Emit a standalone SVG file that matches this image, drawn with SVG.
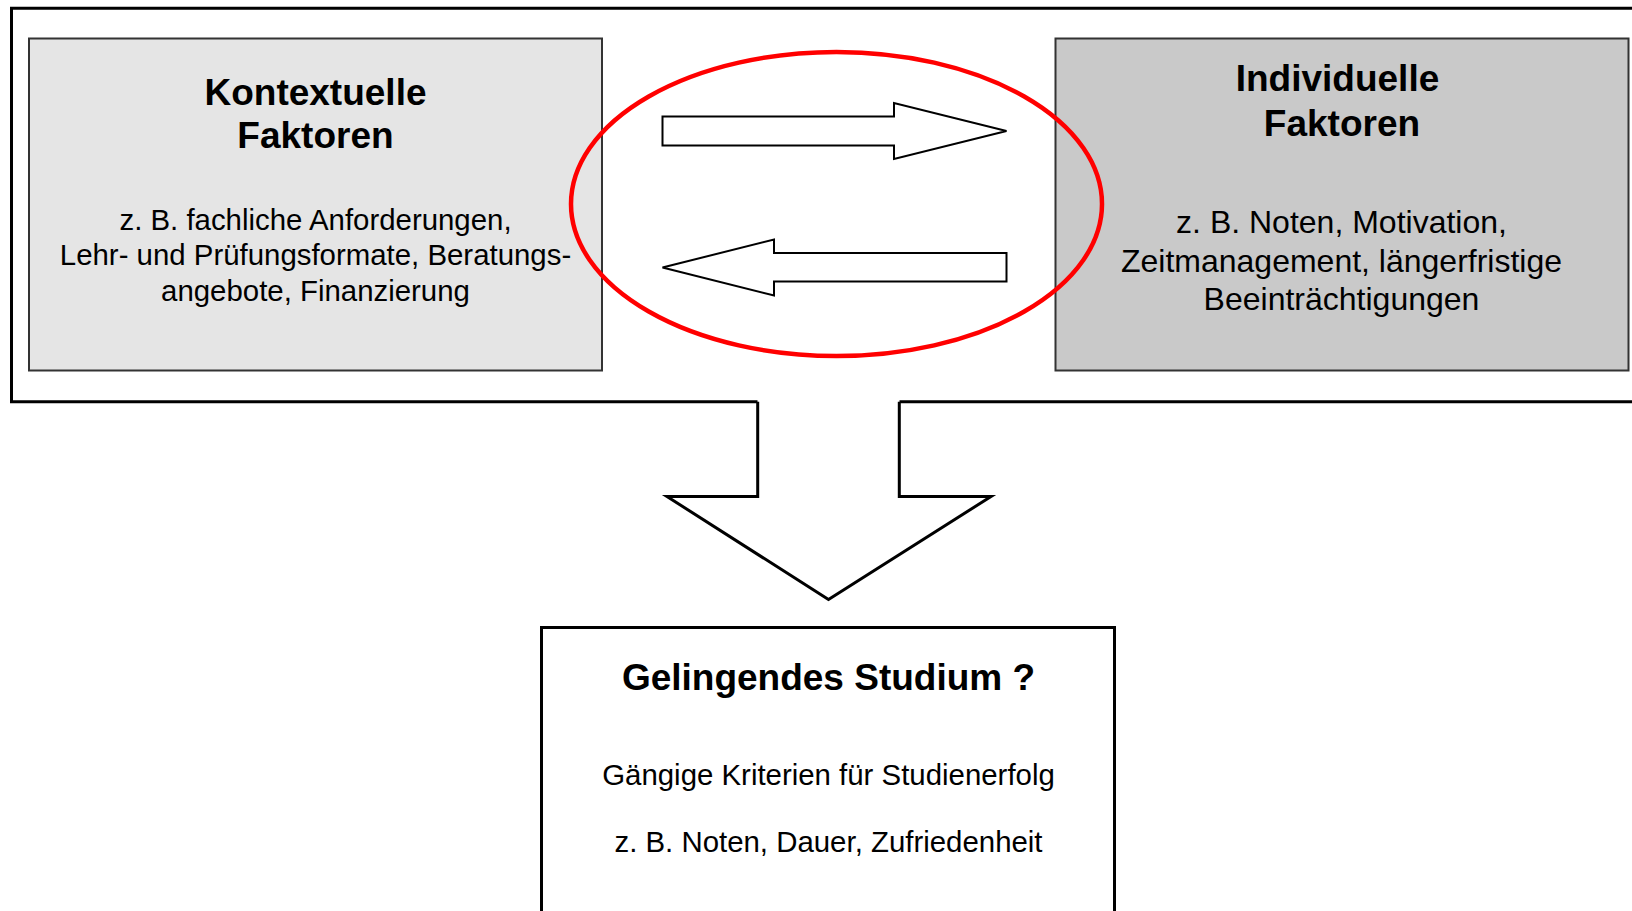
<svg xmlns="http://www.w3.org/2000/svg" width="1632" height="911" viewBox="0 0 1632 911">
<defs>
<style>
.title{font-family:"Liberation Sans",Arial,sans-serif;font-weight:bold;font-size:37px;fill:#000;text-anchor:middle}
.body{font-family:"Liberation Sans",Arial,sans-serif;font-size:29.4px;fill:#000;text-anchor:middle}
.bodyR{font-family:"Liberation Sans",Arial,sans-serif;font-size:32px;fill:#000;text-anchor:middle}
.arrow{fill:#fff;stroke:#000;stroke-width:2;stroke-linejoin:miter}
.frame{fill:none;stroke:#000;stroke-width:3}
</style>
</defs>
<rect width="1632" height="911" fill="#fff"/>
<g id="frame">
<path class="frame" d="M757.7 401.8 H11.5 V8.3 H1650 M899.3 401.8 H1650"/>
</g>
<g id="kontextuelle">
<rect x="29" y="38.5" width="573" height="332" fill="#e5e5e5" stroke="#333" stroke-width="2"/>
<text class="title" x="315.5" y="104.5">Kontextuelle</text>
<text class="title" x="315.5" y="147.5">Faktoren</text>
<text class="body" x="315.5" y="229.5">z. B. fachliche Anforderungen,</text>
<text class="body" x="315.5" y="265">Lehr- und Prüfungsformate, Beratungs-</text>
<text class="body" x="315.5" y="300.5">angebote, Finanzierung</text>
</g>
<g id="individuelle">
<rect x="1055.5" y="38.5" width="573" height="332" fill="#c9c9c9" stroke="#333" stroke-width="2"/>
<text class="title" x="1337.5" y="91">Individuelle</text>
<text class="title" x="1342" y="135.5">Faktoren</text>
<text class="bodyR" x="1341.5" y="233">z. B. Noten, Motivation,</text>
<text class="bodyR" x="1341.5" y="271.5">Zeitmanagement, längerfristige</text>
<text class="bodyR" x="1341.5" y="310">Beeinträchtigungen</text>
</g>
<g id="studium">
<rect x="541.5" y="627.5" width="573" height="300" fill="#fff" stroke="#000" stroke-width="3"/>
<text class="title" x="828.5" y="690">Gelingendes Studium ?</text>
<text class="body" x="828.5" y="785">Gängige Kriterien für Studienerfolg</text>
<text class="body" x="828.5" y="851.5">z. B. Noten, Dauer, Zufriedenheit</text>
</g>
<g id="connectors">
<ellipse id="wechselwirkung" cx="836.5" cy="204" rx="265.5" ry="152" fill="none" stroke="#f00" stroke-width="4.5"/>
<polygon class="arrow" points="662.5,116.5 894,116.5 894,103 1006.5,131 894,159 894,145.5 662.5,145.5"/>
<polygon class="arrow" points="1006.5,253 774,253 774,239.5 662.5,267.5 774,295.5 774,281.5 1006.5,281.5"/>
<polygon fill="#fff" stroke="none" points="757.7,399 757.7,496.5 667,496.5 828.5,599.5 991,496.5 899.3,496.5 899.3,399"/>
<polyline fill="none" stroke="#000" stroke-width="3" points="757.7,401.8 757.7,496.5 667,496.5 828.5,599.5 991,496.5 899.3,496.5 899.3,401.8"/>
</g>
</svg>
